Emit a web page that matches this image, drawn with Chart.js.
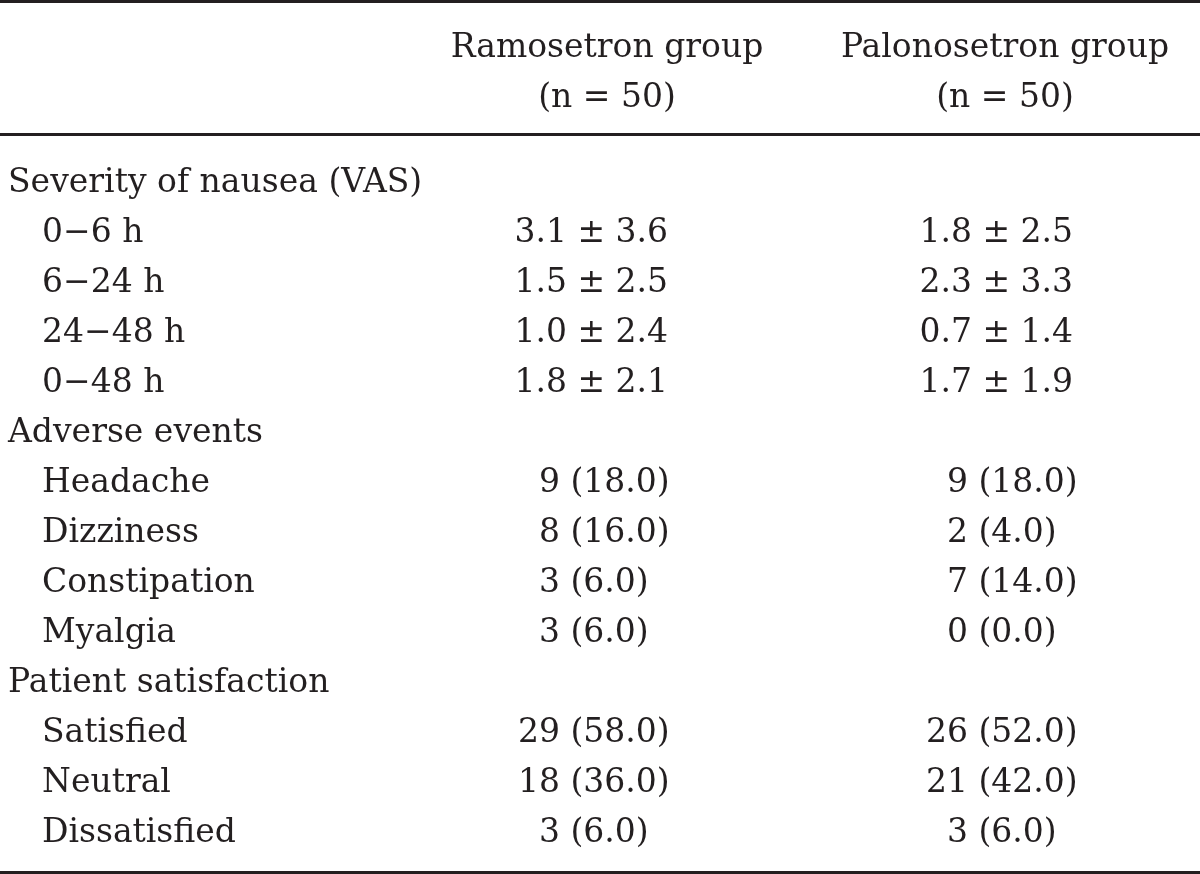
<!DOCTYPE html>
<html><head><meta charset="utf-8">
<script src="https://cdn.jsdelivr.net/npm/chart.js@4.4.1/dist/chart.umd.min.js"></script>
<style>html,body{margin:0;padding:0;background:#fff}#wrap{width:1200px;height:874px;position:relative}</style>
</head><body><div id="wrap"><canvas id="c"></canvas></div>
<script>
// ---- data ----
const groups = ['Ramosetron group', 'Palonosetron group'];
const groupN = [50, 50];
const sections = ['Severity of nausea (VAS)', 'Adverse events', 'Patient satisfaction'];
const vasPeriods = ['0\u22126 h', '6\u221224 h', '24\u221248 h', '0\u221248 h'];
const ramoVasMean = [3.1, 1.5, 1.0, 1.8];
const ramoVasSD   = [3.6, 2.5, 2.4, 2.1];
const paloVasMean = [1.8, 2.3, 0.7, 1.7];
const paloVasSD   = [2.5, 3.3, 1.4, 1.9];
const adverseEvents = ['Headache', 'Dizziness', 'Constipation', 'Myalgia'];
const ramoAECount = [9, 8, 3, 3];
const ramoAEPct   = [18.0, 16.0, 6.0, 6.0];
const paloAECount = [9, 2, 7, 0];
const paloAEPct   = [18.0, 4.0, 14.0, 0.0];
const satisfaction = ['Satisfied', 'Neutral', 'Dissatisfied'];
const ramoSatCount = [29, 18, 3];
const ramoSatPct   = [58.0, 36.0, 6.0];
const paloSatCount = [26, 21, 3];
const paloSatPct   = [52.0, 42.0, 6.0];

// ---- layout / style ----
const INK = '#231f20';
const FONT = "33px 'DejaVu Serif'";
const CAP_HALF = 12;
const LABEL_X = 8, INDENT_X = 42;
const COUNT_X = [518, 926];     // left edge of count cells
const MEAN_X = [668, 1073];     // right edge of mean ± SD cells
const HEAD_X = [607, 1005];
const HEAD_ROWS = [-2.7, -1.7];
const RULES = [-3.57, -0.91, 13.85];

// ---- build rows ----
const fmtMean = (m, s) => m.toFixed(1) + ' \u00b1 ' + s.toFixed(1);
const fmtCount = (c, p) => (c < 10 ? '\u2007' : '') + c + ' (' + p.toFixed(1) + ')';
const rows = [];
rows.push({label: sections[0], indent: false});
vasPeriods.forEach((l, i) => rows.push({label: l, indent: true, kind: 'mean',
  v: [fmtMean(ramoVasMean[i], ramoVasSD[i]), fmtMean(paloVasMean[i], paloVasSD[i])]}));
rows.push({label: sections[1], indent: false});
adverseEvents.forEach((l, i) => rows.push({label: l, indent: true, kind: 'count',
  v: [fmtCount(ramoAECount[i], ramoAEPct[i]), fmtCount(paloAECount[i], paloAEPct[i])]}));
rows.push({label: sections[2], indent: false});
satisfaction.forEach((l, i) => rows.push({label: l, indent: true, kind: 'count',
  v: [fmtCount(ramoSatCount[i], ramoSatPct[i]), fmtCount(paloSatCount[i], paloSatPct[i])]}));

const labelDs = {label: 'rows', texts: [], aligns: [], data: []};
rows.forEach((r, i) => { labelDs.texts.push(r.label); labelDs.aligns.push('left'); labelDs.data.push({x: r.indent ? INDENT_X : LABEL_X, y: i}); });
const headDs = {label: 'header', texts: [], aligns: [], data: []};
groups.forEach((g, gi) => {
  headDs.texts.push(g); headDs.aligns.push('center'); headDs.data.push({x: HEAD_X[gi], y: HEAD_ROWS[0]});
  headDs.texts.push('(n = ' + groupN[gi] + ')'); headDs.aligns.push('center'); headDs.data.push({x: HEAD_X[gi], y: HEAD_ROWS[1]});
});
const valDs = groups.map((g, gi) => {
  const ds = {label: g, texts: [], aligns: [], data: []};
  rows.forEach((r, i) => {
    if (!r.v) return;
    ds.texts.push(r.v[gi]);
    if (r.kind === 'mean') { ds.aligns.push('right'); ds.data.push({x: MEAN_X[gi], y: i}); }
    else { ds.aligns.push('left'); ds.data.push({x: COUNT_X[gi], y: i}); }
  });
  return ds;
});

const tablePlugin = {
  id: 'tableText',
  afterDatasetsDraw(chart) {
    const ctx = chart.ctx, xs = chart.scales.x, ys = chart.scales.y;
    ctx.save();
    ctx.strokeStyle = INK; ctx.lineWidth = 3;
    RULES.forEach(v => { const y = ys.getPixelForValue(v); ctx.beginPath(); ctx.moveTo(xs.left, y); ctx.lineTo(xs.right, y); ctx.stroke(); });
    ctx.fillStyle = INK; ctx.font = FONT; ctx.textBaseline = 'alphabetic';
    chart.data.datasets.forEach((ds, di) => {
      const meta = chart.getDatasetMeta(di);
      meta.data.forEach((el, i) => { ctx.textAlign = ds.aligns[i]; ctx.fillText(ds.texts[i], el.x, el.y + CAP_HALF); });
    });
    ctx.restore();
  }
};

new Chart(document.getElementById('c'), {
  type: 'scatter',
  data: {datasets: [labelDs, headDs].concat(valDs).map(d => Object.assign(d, {pointRadius: 0, pointHoverRadius: 0, showLine: false}))},
  options: {
    responsive: true, maintainAspectRatio: false, animation: false,
    layout: {padding: 0},
    plugins: {legend: {display: false}, tooltip: {enabled: false}},
    scales: {
      x: {type: 'linear', min: 0, max: 1200, display: false},
      y: {type: 'linear', reverse: true, min: -3.6, max: 13.88, display: false}
    }
  },
  plugins: [tablePlugin]
});
</script></body></html>
